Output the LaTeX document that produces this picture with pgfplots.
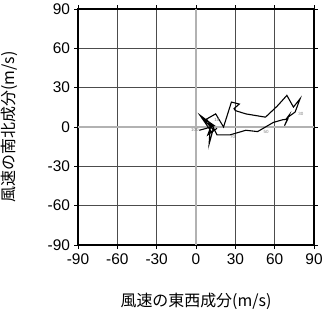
\documentclass[border=0pt]{standalone}
\usepackage{fontspec}
\setmainfont{Liberation Sans}
\newfontfamily\cjk{Noto Sans CJK JP}
\usepackage{pgfplots}
\pgfplotsset{compat=1.18}
\begin{document}
\begin{tikzpicture}
\begin{axis}[
  scale only axis, width=236bp, height=236bp,
  xmin=-90, xmax=90, ymin=-90, ymax=90,
  xtick={-90,-60,...,90}, ytick={-90,-60,...,90},
  /pgf/number format/assume math mode=true,
  ticklabel style={font=\fontsize{15.5}{16}\selectfont},
  tick align=outside, major tick length=3.5bp,
  tick style={black, line width=0.6pt},
  grid=major, grid style={black!70, line width=0.5pt},
  axis line style={black, line width=1.5pt},
  xticklabel style={yshift=-2bp},
  yticklabel style={xshift=-1bp},
  clip=true,
]
\addplot[black!30, line width=1.1pt, forget plot] coordinates {(-90,0) (90,0)};
\addplot[black!30, line width=1.1pt, forget plot] coordinates {(0,-90) (0,90)};
\addplot[black, line width=1.1pt, line join=miter] coordinates {
(2.5,-2.5) (8,-1) (14,1) (5,7) (13,-2) (10,-13) (11,3) (3,9) (12,-4) (16,-1) (9,-6) (12,2) (16,-6)
(26,-6) (38,-2.5) (47,-3.5)
(59,3.5) (66,5.5) (70,6) (67.5,1) (71,9) (69.5,7) (75.6,11.4) (79.4,21.6) (74.3,15.2) (69.3,24.1)
(62,16) (53,7.5) (38,10) (30,12.5) (29,14) (33,17.5) (27,19) (21,0) (15,10) (8,6) (12,0)
};
\node[anchor=east, inner sep=0.5pt, text=black!50, font=\fontsize{4.5}{5}\selectfont] at (axis cs:2.5,-2.5) {100};
\node[anchor=center, inner sep=0pt, text=black!50, font=\fontsize{4.5}{5}\selectfont] at (axis cs:28,-7.6) {70};
\node[anchor=center, inner sep=0pt, text=black!50, font=\fontsize{4.5}{5}\selectfont] at (axis cs:53.5,-4) {50};
\node[anchor=center, inner sep=0pt, text=black!50, font=\fontsize{4.5}{5}\selectfont] at (axis cs:80,9.7) {30};
\node[anchor=center, inner sep=0pt, text=black!50, font=\fontsize{4.5}{5}\selectfont] at (axis cs:16,5.6) {10};
\end{axis}
\node[anchor=center, inner sep=0pt, font=\fontsize{16}{16}\selectfont\cjk] at (118bp,-56bp) {風速の東西成分(m/s)};
\node[anchor=center, inner sep=0pt, rotate=90, font=\fontsize{16}{16}\selectfont\cjk] at (-69bp,118bp) {風速の南北成分(m/s)};
\pgfresetboundingbox
\path[use as bounding box] (-78bp,-68bp) rectangle (245bp,245bp);
\end{tikzpicture}
\end{document}
